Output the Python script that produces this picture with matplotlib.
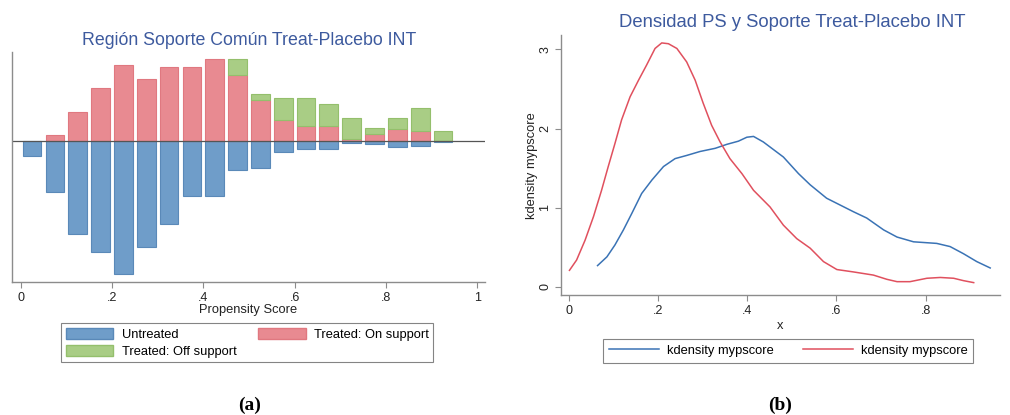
import matplotlib
matplotlib.use("Agg")
import matplotlib.pyplot as plt
from matplotlib.patches import Patch
import numpy as np

plt.rcParams['font.family'] = ['Liberation Sans', 'DejaVu Sans']

# ---------------- data: panel (a) ----------------
bin_centers = [0.025, 0.075, 0.125, 0.175, 0.225, 0.275, 0.325, 0.375, 0.425, 0.475,
               0.525, 0.575, 0.625, 0.675, 0.725, 0.775, 0.825, 0.875, 0.925]
untreated = [0.45, 1.52, 2.79, 3.32, 3.99, 3.16, 2.48, 1.65, 1.65, 0.87,
             0.79, 0.32, 0.23, 0.23, 0.05, 0.08, 0.17, 0.14, 0.02]
treated_on = [0.0, 0.18, 0.88, 1.59, 2.29, 1.88, 2.23, 2.23, 2.46, 1.99,
              1.23, 0.65, 0.47, 0.47, 0.06, 0.23, 0.36, 0.31, 0.0]
treated_off = [0.0, 0.0, 0.0, 0.0, 0.0, 0.0, 0.0, 0.0, 0.0, 0.47,
               0.18, 0.64, 0.82, 0.64, 0.65, 0.18, 0.35, 0.69, 0.31]
xticks_a = [0, 0.2, 0.4, 0.6, 0.8, 1.0]
xticklabels_a = ["0", ".2", ".4", ".6", ".8", "1"]

# ---------------- data: panel (b) ----------------
red_x = [0.001, 0.017, 0.036, 0.055, 0.073, 0.088, 0.103, 0.118, 0.137, 0.156, 0.174,
         0.193, 0.208, 0.223, 0.242, 0.264, 0.283, 0.301, 0.320, 0.339, 0.361, 0.388,
         0.414, 0.451, 0.481, 0.511, 0.541, 0.571, 0.601, 0.638, 0.683, 0.713, 0.736,
         0.765, 0.803, 0.833, 0.863, 0.885, 0.908]
red_y = [0.21, 0.34, 0.59, 0.89, 1.22, 1.52, 1.81, 2.11, 2.40, 2.61, 2.80,
         3.01, 3.08, 3.07, 3.01, 2.84, 2.61, 2.32, 2.04, 1.83, 1.62, 1.43,
         1.22, 1.01, 0.78, 0.61, 0.49, 0.32, 0.22, 0.19, 0.15, 0.097, 0.067,
         0.067, 0.11, 0.12, 0.11, 0.08, 0.055]
blue_x = [0.064, 0.085, 0.103, 0.122, 0.141, 0.163, 0.186, 0.212, 0.238, 0.264, 0.294,
          0.328, 0.354, 0.380, 0.399, 0.414, 0.436, 0.481, 0.515, 0.541, 0.578, 0.638,
          0.668, 0.706, 0.736, 0.773, 0.825, 0.855, 0.885, 0.915, 0.945]
blue_y = [0.27, 0.38, 0.53, 0.72, 0.93, 1.18, 1.35, 1.52, 1.62, 1.66, 1.71,
          1.75, 1.80, 1.84, 1.89, 1.90, 1.83, 1.64, 1.43, 1.29, 1.12, 0.95,
          0.87, 0.72, 0.63, 0.57, 0.55, 0.51, 0.42, 0.32, 0.24]
xticks_b = [0, 0.2, 0.4, 0.6, 0.8]
xticklabels_b = ["0", ".2", ".4", ".6", ".8"]
yticks_b = [0, 1, 2, 3]

TITLE_C = "#3d5a9e"
BLUE_F, BLUE_E = "#6f9dc9", "#5a89b8"
RED_F, RED_E = "#e88a91", "#e07880"
GREEN_F, GREEN_E = "#a9cd85", "#94bf6c"
AXC = "#8c8c8c"
TXT = 9.3
TICK = 9

W, H = 1010, 415
fig = plt.figure(figsize=(W / 100, H / 100), dpi=100)

# ---------------- panel (a) ----------------
ax = fig.add_axes([12 / W, 1 - 282 / H, (485 - 12) / W, (282 - 52) / H])
bw = 0.041
bc = np.array(bin_centers)
un = np.array(untreated)
on = np.array(treated_on)
off = np.array(treated_off)
m = un > 0
ax.bar(bc[m], -un[m], width=bw, color=BLUE_F, edgecolor=BLUE_E, linewidth=0.8)
m = on > 0
ax.bar(bc[m], on[m], width=bw, color=RED_F, edgecolor=RED_E, linewidth=0.8)
m = off > 0
ax.bar(bc[m], off[m], width=bw, bottom=on[m], color=GREEN_F, edgecolor=GREEN_E, linewidth=0.8)
ax.axhline(0, color="#555555", linewidth=0.9)
ax.set_xlim(-0.019, 1.017)
ax.set_ylim(-4.22, 2.68)
ax.set_yticks([])
ax.set_xticks(xticks_a)
ax.set_xticklabels(xticklabels_a, fontsize=TICK)
ax.tick_params(axis='x', colors=AXC, labelcolor="#222222", length=4, width=0.8, pad=3)
for s in ['top', 'right']:
    ax.spines[s].set_visible(False)
for s in ['left', 'bottom']:
    ax.spines[s].set_color(AXC)
    ax.spines[s].set_linewidth(1.0)
ax.set_xlabel("Propensity Score", fontsize=TXT, labelpad=0.5, color="#222222")
fig.text(249.5 / W, 1 - 45 / H, "Región Soporte Común Treat-Placebo INT", ha='center', va='baseline',
         fontsize=12.8, color=TITLE_C)
handles_a = [Patch(facecolor=BLUE_F, edgecolor=BLUE_E, label="Untreated"),
             Patch(facecolor=GREEN_F, edgecolor=GREEN_E, label="Treated: Off support"),
             Patch(facecolor=RED_F, edgecolor=RED_E, label="Treated: On support")]
leg = fig.legend(handles=handles_a, loc='upper left', bbox_to_anchor=(61 / W, 1 - 323 / H), ncol=2,
                 fontsize=TXT, frameon=True, fancybox=False, handlelength=3.7, handleheight=1.0,
                 columnspacing=1.65, handletextpad=0.65, labelspacing=0.3, borderpad=0.35,
                 borderaxespad=0)
leg.get_frame().set_edgecolor("#666666")
leg.get_frame().set_linewidth(0.8)

# ---------------- panel (b) ----------------
bx = fig.add_axes([561 / W, 1 - 295.3 / H, (1000 - 561) / W, (295.3 - 35) / H])
bx.plot(blue_x, blue_y, color="#3a73b5", linewidth=1.1, label="kdensity mypscore")
bx.plot(red_x, red_y, color="#e0505e", linewidth=1.1, label="kdensity mypscore")
bx.set_xlim(-0.018, 0.967)
bx.set_ylim(-0.105, 3.18)
bx.set_xticks(xticks_b)
bx.set_xticklabels(xticklabels_b, fontsize=TICK)
bx.set_yticks(yticks_b)
bx.set_yticklabels([str(v) for v in yticks_b], fontsize=TICK, rotation=90, va='center')
bx.tick_params(colors=AXC, labelcolor="#222222", length=4, width=0.8, pad=3)
for s in ['top', 'right']:
    bx.spines[s].set_visible(False)
for s in ['left', 'bottom']:
    bx.spines[s].set_color(AXC)
    bx.spines[s].set_linewidth(1.0)
bx.set_xlabel("x", fontsize=TXT, labelpad=2.5, color="#222222")
bx.set_ylabel("kdensity mypscore", fontsize=TXT, labelpad=1, color="#222222")
fig.text(792.5 / W, 1 - 27 / H, "Densidad PS y Soporte Treat-Placebo INT", ha='center', va='baseline',
         fontsize=13.3, color=TITLE_C)
legb = fig.legend(handles=bx.get_lines(), loc='upper left', bbox_to_anchor=(603 / W, 1 - 339 / H), ncol=2,
                  fontsize=TXT, frameon=True, fancybox=False, handlelength=3.9,
                  columnspacing=2.25, handletextpad=0.6, borderpad=0.45, borderaxespad=0)
legb.get_frame().set_edgecolor("#666666")
legb.get_frame().set_linewidth(0.8)

fig.text(250 / W, 1 - 405 / H, "(a)", ha='center', va='center', fontsize=14, fontweight='bold',
         family=['Liberation Serif', 'DejaVu Serif'])
fig.text(780 / W, 1 - 405 / H, "(b)", ha='center', va='center', fontsize=14, fontweight='bold',
         family=['Liberation Serif', 'DejaVu Serif'])

fig.savefig("out.png", dpi=100, facecolor="white")
